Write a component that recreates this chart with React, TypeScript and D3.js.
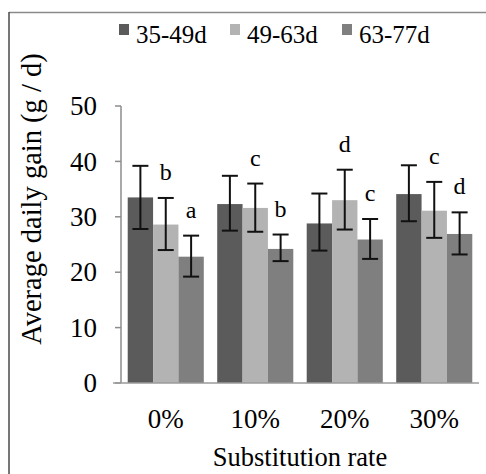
import React from 'react';
import * as d3 from 'd3';

const categories = ['0%', '10%', '20%', '30%'];
const series = ['35-49d', '49-63d', '63-77d'];
const colors = ['#5b5b5b', '#b3b3b3', '#7f7f7f'];

// mean, lower error, upper error for each series by category
const means = [
  [33.5, 32.3, 28.8, 34.1],
  [28.6, 31.6, 33.0, 31.1],
  [22.8, 24.2, 25.9, 26.9],
];
const lows = [
  [27.8, 27.5, 23.9, 29.2],
  [24.0, 27.3, 27.7, 26.2],
  [19.2, 22.0, 22.4, 23.2],
];
const highs = [
  [39.2, 37.4, 34.2, 39.3],
  [33.4, 36.0, 38.5, 36.3],
  [26.6, 26.8, 29.6, 30.8],
];
const letters = [
  ['', '', '', ''],
  ['b', 'c', 'd', 'c'],
  ['a', 'b', 'c', 'd'],
];
const yTicks = [0, 10, 20, 30, 40, 50];

const W = 486;
const H = 474;
const serif = { fontFamily: "'Liberation Serif'" };

export default function App() {
  const x = d3.scaleBand<string>().domain(categories).range([121, 479]).paddingInner(0.15).paddingOuter(0.075);
  const xs = d3.scaleBand<string>().domain(series).range([0, x.bandwidth()]);
  const y = d3.scaleLinear().domain([0, 50]).range([383, 106]);

  const legendX = [119, 230, 342];

  return (
    <svg width={W} height={H} style={{ position: 'absolute', left: 0, top: 0 }}>
      <rect x={0} y={0} width={W} height={H} fill="#fff" />
      {/* frame */}
      <line x1={9} y1={12.5} x2={486} y2={12.5} stroke="#8a8a8a" strokeWidth={1.5} />
      <line x1={9} y1={12} x2={9} y2={474} stroke="#4a4a4a" strokeWidth={1.5} />

      {/* legend */}
      {series.map((s, i) => (
        <g key={s}>
          <rect x={legendX[i]} y={24} width={10} height={11} fill={colors[i]} />
          <text x={legendX[i] + 17} y={43} style={serif} fontSize={25} fill="#000">
            {s}
          </text>
        </g>
      ))}

      {/* bars */}
      {series.map((s, si) =>
        categories.map((c, ci) => {
          const bx = (x(c) ?? 0) + (xs(s) ?? 0);
          return (
            <rect
              key={s + c}
              x={bx}
              y={y(means[si][ci])}
              width={xs.bandwidth()}
              height={y(0) - y(means[si][ci])}
              fill={colors[si]}
            />
          );
        })
      )}

      {/* error bars */}
      {series.map((s, si) =>
        categories.map((c, ci) => {
          const cx = (x(c) ?? 0) + (xs(s) ?? 0) + xs.bandwidth() / 2;
          const y1 = y(highs[si][ci]);
          const y2 = y(lows[si][ci]);
          return (
            <g key={'e' + s + c} stroke="#111" strokeWidth={2}>
              <line x1={cx} x2={cx} y1={y1} y2={y2} />
              <line x1={cx - 8} x2={cx + 8} y1={y1} y2={y1} />
              <line x1={cx - 8} x2={cx + 8} y1={y2} y2={y2} />
            </g>
          );
        })
      )}

      {/* significance letters */}
      {series.map((s, si) =>
        categories.map((c, ci) =>
          letters[si][ci] ? (
            <text
              key={'l' + s + c}
              x={(x(c) ?? 0) + (xs(s) ?? 0) + xs.bandwidth() / 2}
              y={y(highs[si][ci]) - 18}
              textAnchor="middle"
              style={serif}
              fontSize={24}
              fill="#000"
            >
              {letters[si][ci]}
            </text>
          ) : null
        )
      )}

      {/* y axis */}
      <line x1={121} x2={121} y1={y(50)} y2={y(0)} stroke="#8c8c8c" strokeWidth={1.5} />
      {yTicks.map((t) => (
        <g key={t}>
          <line x1={115} x2={121} y1={y(t)} y2={y(t)} stroke="#8c8c8c" strokeWidth={1.5} />
          <text x={97} y={y(t)} dy="0.34em" textAnchor="end" style={serif} fontSize={27} fill="#000">
            {t}
          </text>
        </g>
      ))}

      {/* x axis */}
      <line x1={113} x2={479} y1={y(0)} y2={y(0)} stroke="#9a9a9a" strokeWidth={1.5} />
      {categories.map((c) => (
        <text
          key={c}
          x={(x(c) ?? 0) + x.bandwidth() / 2}
          y={428}
          textAnchor="middle"
          style={serif}
          fontSize={27}
          fill="#000"
        >
          {c}
        </text>
      ))}

      <text x={300} y={466} textAnchor="middle" style={serif} fontSize={26.5} fill="#000">
        Substitution rate
      </text>
      <text
        transform={`translate(41, 199) rotate(-90)`}
        textAnchor="middle"
        style={serif}
        fontSize={28.5}
        fill="#000"
      >
        Average daily gain (g / d)
      </text>
    </svg>
  );
}
